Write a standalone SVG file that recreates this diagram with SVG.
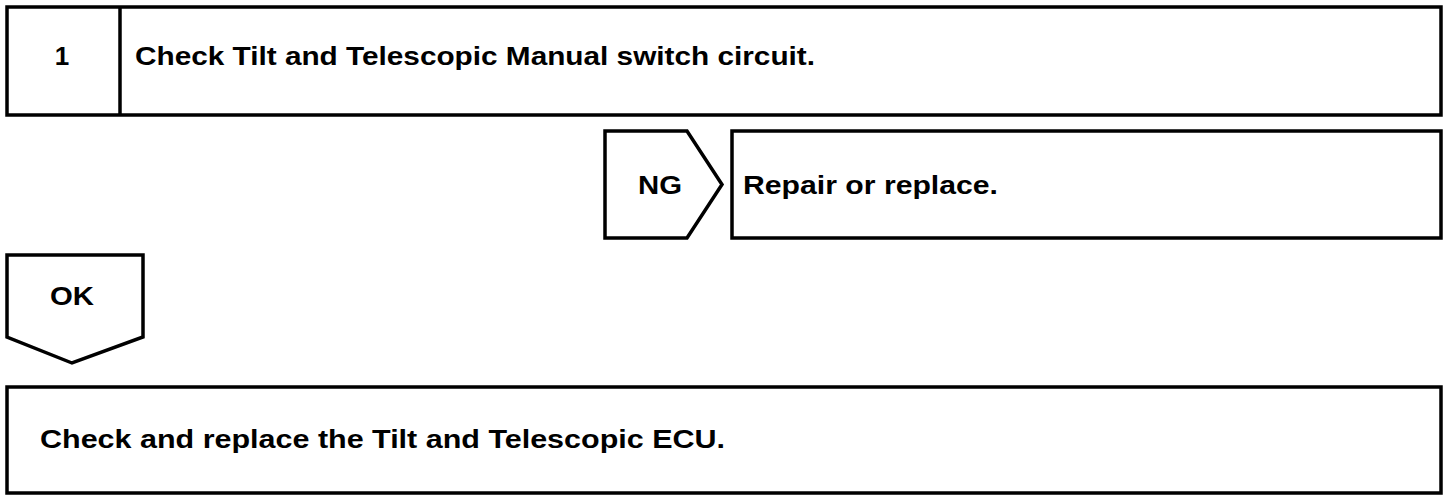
<svg xmlns="http://www.w3.org/2000/svg" width="1456" height="502" viewBox="0 0 1456 502">
<style>
.box{fill:#fff;stroke:#000;stroke-width:3.5;stroke-linejoin:miter}
.t{font-family:"Liberation Sans",Arial,Helvetica,sans-serif;font-weight:bold;font-size:26px;fill:#000}
.c{text-anchor:middle}
</style>
<rect width="1456" height="502" fill="#fff"/>
<g id="step1">
<rect class="box" x="7" y="7" width="1434" height="108"/>
<line x1="120" y1="7" x2="120" y2="115" stroke="#000" stroke-width="3.5"/>
<text class="t c" x="62" y="65">1</text>
<text class="t" x="135" y="65" textLength="680" lengthAdjust="spacingAndGlyphs">Check Tilt and Telescopic Manual switch circuit.</text>
</g>
<g id="connectors">
<g id="ng">
<polygon class="box" points="605,131 687,131 722,184.5 687,238 605,238"/>
<text class="t" x="638" y="194" textLength="44" lengthAdjust="spacingAndGlyphs">NG</text>
</g>
<g id="ok">
<polygon class="box" points="7,255 143,255 143,337 72,363 7,337"/>
<text class="t" x="50" y="305" textLength="44" lengthAdjust="spacingAndGlyphs">OK</text>
</g>
</g>
<g id="repair">
<rect class="box" x="732" y="131" width="709" height="107"/>
<text class="t" x="743" y="194" textLength="255" lengthAdjust="spacingAndGlyphs">Repair or replace.</text>
</g>
<g id="replace-ecu">
<rect class="box" x="7" y="387" width="1434" height="106"/>
<text class="t" x="40" y="448" textLength="685" lengthAdjust="spacingAndGlyphs">Check and replace the Tilt and Telescopic ECU.</text>
</g>
</svg>
